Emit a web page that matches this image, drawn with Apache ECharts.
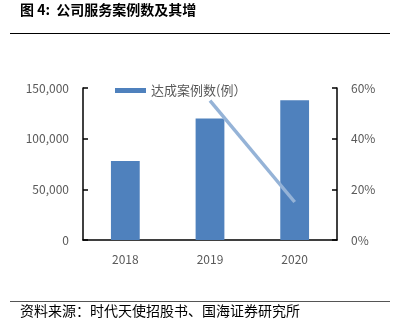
<!DOCTYPE html>
<html><head><meta charset="utf-8">
<script src="https://cdn.jsdelivr.net/npm/echarts@6/dist/echarts.min.js"></script>
<style>html,body{margin:0;padding:0;background:#fff}#c{width:396px;height:328px}</style>
</head><body><div id="c"></div>
<script>
var categories = ['2018', '2019', '2020'];
var caseCounts = [78000, 120000, 138000];
var growthRates = [null, 55, 15];
var leftTicks = [0, 50000, 100000, 150000];
var rightTicks = [0, 20, 40, 60];

var chart = echarts.init(document.getElementById('c'));
var font = '"Noto Sans CJK SC", sans-serif';
chart.setOption({
  animation: false,
  backgroundColor: '#fff',
  textStyle: { fontFamily: font },
  graphic: [
    { type: 'text', left: 20, top: 3, style: { text: '图 4:  公司服务案例数及其增', font: 'bold 14px "Noto Sans CJK SC", sans-serif', fill: '#000' } },
    { type: 'line', shape: { x1: 10, y1: 33.5, x2: 390, y2: 33.5 }, style: { stroke: '#000', lineWidth: 1 } },
    { type: 'line', shape: { x1: 10, y1: 301.5, x2: 390, y2: 301.5 }, style: { stroke: '#555', lineWidth: 1 } },
    { type: 'text', left: 20, top: 304, style: { text: '资料来源：时代天使招股书、国海证券研究所', font: '14px "Noto Sans CJK SC", serif', fill: '#000' } }
  ],
  legend: {
    data: [{ name: '达成案例数(例）', icon: 'rect' }],
    left: 110, top: 79,
    itemWidth: 31, itemHeight: 5, itemGap: 4,
    textStyle: { color: '#595959', fontSize: 13, fontFamily: font }
  },
  grid: { left: 83, right: 59, top: 88, bottom: 88 },
  xAxis: {
    type: 'category', data: categories,
    axisLine: { lineStyle: { color: '#000', width: 1.5 } },
    axisTick: { show: false },
    axisLabel: { color: '#595959', fontSize: 12, margin: 13, fontFamily: font }
  },
  yAxis: [
    {
      type: 'value', min: 0, max: 150000, interval: 50000,
      axisLine: { show: true, lineStyle: { color: '#000', width: 1.5 } },
      axisTick: { show: true, inside: true, length: 5, lineStyle: { color: '#000', width: 1.5 } },
      splitLine: { show: false },
      axisLabel: { color: '#595959', fontSize: 12, margin: 14, fontFamily: font,
        formatter: function (v) { return v.toLocaleString('en-US'); } }
    },
    {
      type: 'value', min: 0, max: 60, interval: 20, position: 'right',
      axisLine: { show: true, lineStyle: { color: '#000', width: 1.5 } },
      axisTick: { show: true, inside: true, length: 5, lineStyle: { color: '#000', width: 1.5 } },
      splitLine: { show: false },
      axisLabel: { color: '#595959', fontSize: 12, margin: 14, fontFamily: font, formatter: '{value}%' }
    }
  ],
  series: [
    {
      name: '达成案例数(例）', type: 'bar', data: caseCounts, barWidth: '34%',
      itemStyle: { color: '#4f81bd' }
    },
    {
      name: '增速', type: 'line', yAxisIndex: 1, data: growthRates,
      symbol: 'none', lineStyle: { color: '#95b3d7', width: 3.5 }, itemStyle: { color: '#95b3d7' }
    }
  ]
});
</script></body></html>
